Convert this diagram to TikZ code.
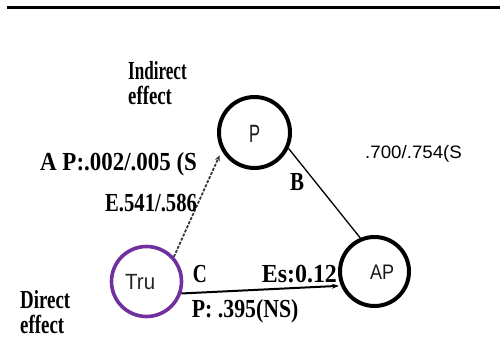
\documentclass[tikz,border=0pt]{standalone}
\usepackage{fontspec}
\setmainfont{Liberation Serif}
\setsansfont{Liberation Sans}
\usetikzlibrary{arrows.meta}
\definecolor{trupurple}{HTML}{7030A0}
\newcommand\sqz[2]{\resizebox{#1}{\height}{#2}}
\tikzset{
  lbl/.style={font=\fontsize{26}{22}\selectfont\bfseries, inner sep=0pt, anchor=base west},
  slbl/.style={font=\fontsize{20}{20}\selectfont\sffamily, inner sep=0pt, anchor=base west},
  var/.style={circle, draw=black, line width=4pt, inner sep=0pt},
  conn/.style={line width=1.3pt, black},
}
\begin{document}
\begin{tikzpicture}[x=1pt, y=-1pt]
\useasboundingbox (0,0) rectangle (500,358);
% top rule
\draw[line width=3pt] (7,7.5) -- (500,7.5);
% variables
\node[var, minimum size=71pt] (p) at (254.5,132.5) {};
\node[var, minimum size=69pt] (ap) at (374.5,271.5) {};
\node[var, draw=trupurple, line width=3.6pt, minimum size=70pt] (tru) at (146.5,281.5) {};
% variable names
\node[slbl, font=\fontsize{25}{25}\selectfont\sffamily, text=black!90] (ptxt) at (249,143) {\sqz{11pt}{P}};
\node[slbl, font=\fontsize{21}{21}\selectfont\sffamily, text=black!90] (aptxt) at (370,279) {\sqz{24pt}{AP}};
\node[slbl, font=\fontsize{22}{22}\selectfont\sffamily, text=black!85] (trutxt) at (125,289.3) {\sqz{30pt}{Tru}};
% connectors
\draw[line width=1.8pt, gray!45!black, dash pattern=on 3pt off 1.5pt,
      -{Stealth[length=6pt,width=5pt]}, shorten >=5pt] (tru.42) -- (p.209);
\draw[conn] (p.-25) -- (ap.113);
\draw[line width=2pt, -{Stealth[length=7pt,width=5pt]}, shorten >=2pt] (tru.-19) -- (ap.203);
% labels
\node[lbl] (ind) at (128,80) {\begin{tabular}[t]{@{}l@{}}\sqz{58.5pt}{Indirect}\\\sqz{43.7pt}{effect}\end{tabular}};
\node[lbl] (dir) at (20,308.3) {\begin{tabular}[t]{@{}l@{}}\sqz{50pt}{Direct}\\\sqz{44pt}{effect}\end{tabular}};
\node[lbl] (ap1) at (40,170) {\sqz{156.7pt}{A P:.002/.005 (S}};
\node[lbl] (ap2) at (105,211.7) {\sqz{91.7pt}{E.541/.586}};
\node[lbl] (blbl) at (290,190) {\sqz{14pt}{B}};
\node[slbl, font=\fontsize{18}{18}\selectfont\sffamily] (bval) at (365,158.3) {\sqz{96.7pt}{.700/.754(S}};
\node[lbl] (clbl) at (192.7,282.7) {\sqz{14pt}{C}};
\node[lbl] (es) at (261.7,282.7) {\sqz{75pt}{Es:0.12}};
\node[lbl] (cp) at (191.7,317.3) {\sqz{106.6pt}{P: .395(NS)}};
\end{tikzpicture}
\end{document}
